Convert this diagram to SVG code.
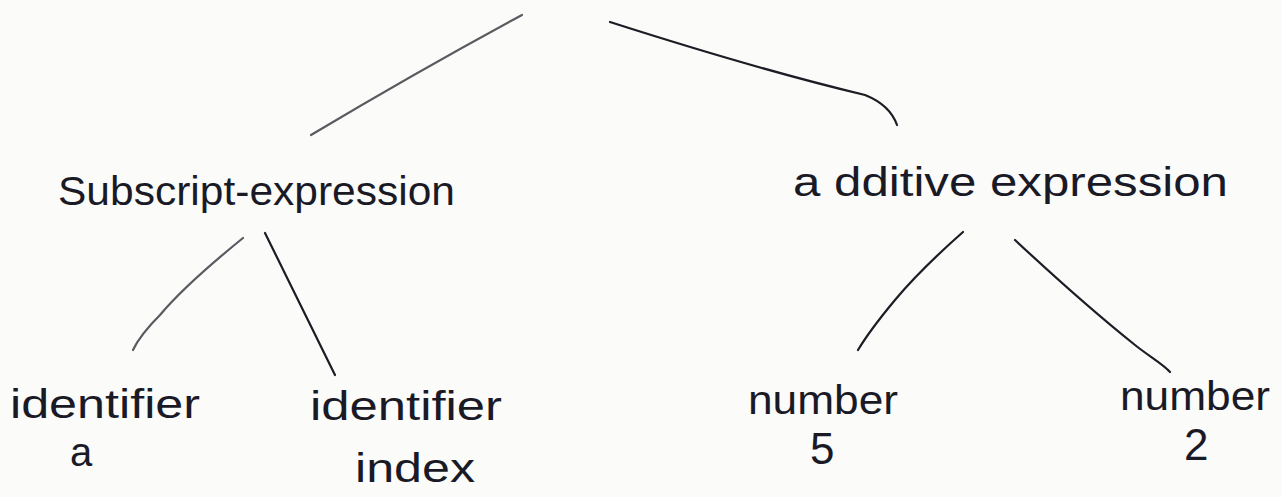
<svg xmlns="http://www.w3.org/2000/svg" width="1282" height="497" viewBox="0 0 1282 497">
  <style>
    .edge { fill: none; stroke: #1c1c24; stroke-width: 2.2; stroke-linecap: round; }
    .edge.soft { stroke: #5a5a60; }
    .lbl { font-family: "Liberation Sans", "DejaVu Sans", sans-serif; fill: #1a1a26; font-size: 40px; }
    .big { font-size: 44px; }
  </style>
  <rect width="1282" height="497" fill="#fbfbfa"/>

  <!-- tree edges -->
  <g id="connectors">
    <path class="edge soft" d="M522,15 Q420,70 311,135"/>
    <path class="edge" d="M610,22 Q760,70 865,95 Q890,105 897,125"/>
    <path class="edge soft" d="M243,238 Q185,285 160,315 Q140,335 133,350"/>
    <path class="edge" d="M265,233 L335,375"/>
    <path class="edge" d="M963,232 Q920,270 895,300 Q870,330 858,350"/>
    <path class="edge" d="M1015,240 C1060,282 1110,325 1135,345 C1150,357 1163,364 1170,372"/>
  </g>

  <g id="subscript-expression">
    <text class="lbl" x="58" y="205" textLength="397" lengthAdjust="spacingAndGlyphs">Subscript-expression</text>
  </g>
  <g id="additive-expression">
    <text class="lbl" x="793" y="196" textLength="435" lengthAdjust="spacingAndGlyphs">a dditive expression</text>
  </g>
  <g id="identifier-a">
    <text class="lbl" x="10" y="418" textLength="190" lengthAdjust="spacingAndGlyphs">identifier</text>
    <text class="lbl" x="70" y="466">a</text>
  </g>
  <g id="identifier-index">
    <text class="lbl" x="310" y="420" textLength="192" lengthAdjust="spacingAndGlyphs">identifier</text>
    <text class="lbl" x="355" y="482" textLength="120" lengthAdjust="spacingAndGlyphs">index</text>
  </g>
  <g id="number-5">
    <text class="lbl" x="748" y="414" textLength="150" lengthAdjust="spacingAndGlyphs">number</text>
    <text class="lbl big" x="810" y="464">5</text>
  </g>
  <g id="number-2">
    <text class="lbl" x="1120" y="410" textLength="150" lengthAdjust="spacingAndGlyphs">number</text>
    <text class="lbl big" x="1184" y="460">2</text>
  </g>
</svg>
